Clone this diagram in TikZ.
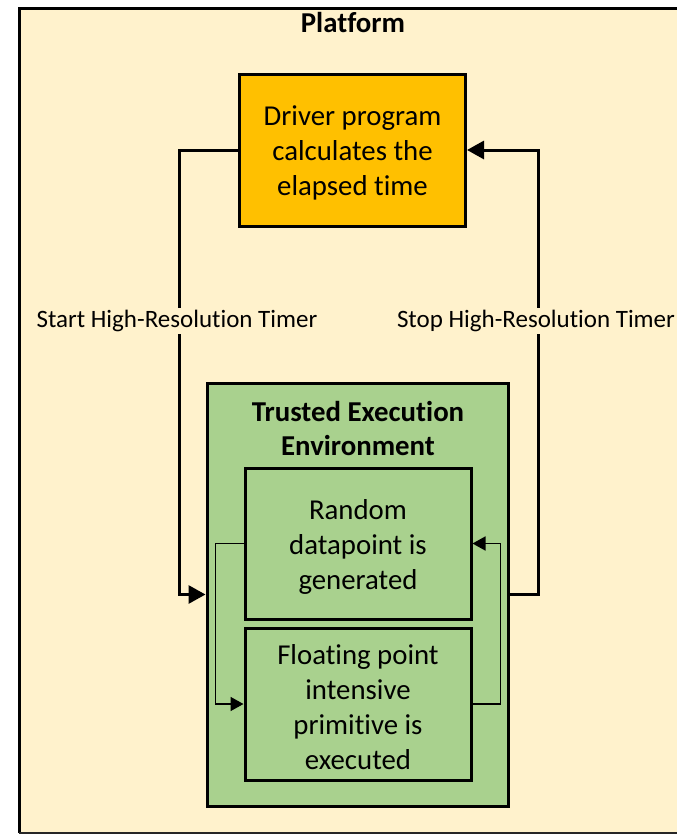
\documentclass[tikz,border=0pt]{standalone}
\usepackage{fontspec}
\setmainfont{Carlito}[Ligatures=NoCommon]
\usetikzlibrary{arrows.meta}
\definecolor{platformfill}{HTML}{FFF2CC}
\definecolor{driverfill}{HTML}{FFC000}
\definecolor{teefill}{HTML}{A9D18E}
\tikzset{
  boxline/.style={draw=black, line width=1.5pt},
  bigbox/.style={boxline, minimum width=113pt, minimum height=76pt, inner sep=0pt},
  boxtext/.style={align=center, font=\fontsize{14.4}{17.5}\selectfont, inner sep=0pt, yshift=-1.6pt},
  timerarrow/.style={line width=1.5pt, -{Triangle[length=8.5pt, width=9pt]}},
  looparrow/.style={line width=0.8pt, -{Triangle[length=6.5pt, width=7pt]}},
  timerlabel/.style={fill=platformfill, font=\fontsize{12.5}{15}\selectfont, inner sep=1pt},
  titletext/.style={font=\fontsize{14.4}{17}\selectfont\bfseries, align=center}
}
\begin{document}
\begin{tikzpicture}[x=0.5pt, y=-0.5pt]
  \useasboundingbox (0,0) rectangle (677,835);
  % platform background and its borders
  \fill[platformfill] (19,8) rectangle (677,833);
  \draw[line width=1.5pt] (19,833) -- (19,8) -- (677,8);
  \draw[line width=0.6pt, black!85] (19,833) -- (677,833);
  \node[titletext] (platform) at (353,23) {Platform};

  % driver program
  \node[bigbox, fill=driverfill] (driver) at (352.5,150) {};
  \node[boxtext] (drivertext) at (driver.center) {Driver program\\calculates the\\elapsed time};

  % trusted execution environment
  \node[boxline, fill=teefill, minimum width=150.5pt, minimum height=211.5pt, inner sep=0pt]
    (tee) at (357.5,594.5) {};
  \node[titletext] (teetitle) at (358,428) {Trusted Execution\\Environment};
  \node[bigbox, fill=teefill, minimum height=75.5pt] (rand) at (358,543.5) {};
  \node[boxtext] (randtext) at (rand.center) {Random\\datapoint is\\generated};
  \node[bigbox, fill=teefill] (flt) at (358,704) {};
  \node[boxtext] (flttext) at (flt.center) {Floating point\\intensive\\primitive is\\executed};

  % timer connectors
  \draw[timerarrow] (driver.west) -- ++(-59,0) |- (tee.west);
  \draw[timerarrow] (tee.east) -- ++(29,0) |- (driver.east);
  \node[timerlabel] (startlbl) at (177,321) {Start High-Resolution Timer};
  \node[timerlabel] (stoplbl) at (536,321) {Stop High-Resolution Timer};

  % loop between the two steps
  \draw[looparrow] (rand.west) -- ++(-28,0) |- (flt.west);
  \draw[looparrow] (flt.east) -- ++(28,0) |- (rand.east);
\end{tikzpicture}
\end{document}
